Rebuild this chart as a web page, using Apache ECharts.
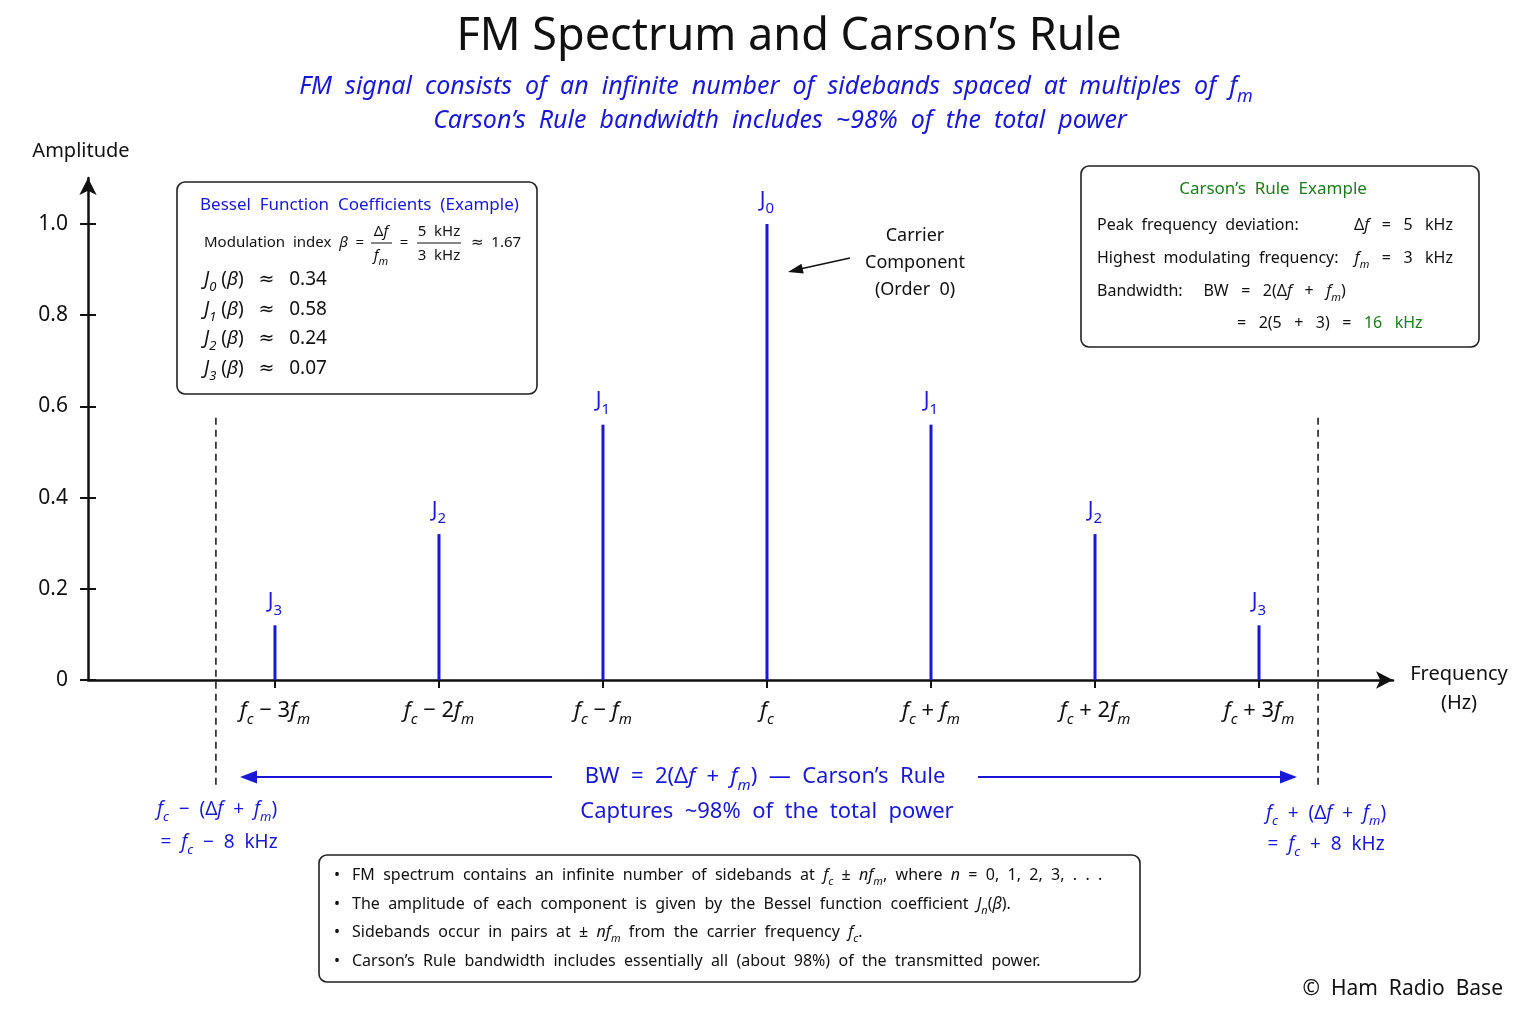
<!DOCTYPE html>
<html><head><meta charset="utf-8">
<script src="https://cdn.jsdelivr.net/npm/echarts@6/dist/echarts.min.js"></script>
<style>html,body{margin:0;background:#fff}#c{width:1536px;height:1024px}</style>
</head><body><div id="c"></div>
<script>
// ---------- data ----------
const orders = [-3, -2, -1, 0, 1, 2, 3];
const amplitudes = [0.12, 0.32, 0.56, 1.0, 0.56, 0.32, 0.12];
const stemLabels = ['J^3', 'J^2', 'J^1', 'J^0', 'J^1', 'J^2', 'J^3'];
const xTickLabels = ['$f$_c − 3$f$_m', '$f$_c − 2$f$_m', '$f$_c − $f$_m', '$f$_c', '$f$_c + $f$_m', '$f$_c + 2$f$_m', '$f$_c + 3$f$_m'];
const yTickValues = [0, 0.2, 0.4, 0.6, 0.8, 1.0];
const yTickLabels = ['0', '0.2', '0.4', '0.6', '0.8', '1.0'];
const bandEdges = [-3.36, 3.36];
const bandEdgeSpan = [-0.24, 0.575];
const besselNames = ['$J$_0($β$)', '$J$_1($β$)', '$J$_2($β$)', '$J$_3($β$)'];
const besselValues = ['0.34', '0.58', '0.24', '0.07'];
const bullets = [
  'FM spectrum contains an infinite number of sidebands at $f$_c ± $nf$_m, where $n$ = 0, 1, 2, 3, . . .',
  'The amplitude of each component is given by the Bessel function coefficient $J$_n($β$).',
  'Sidebands occur in pairs at ± $nf$_m from the carrier frequency $f$_c.',
  'Carson’s Rule bandwidth includes essentially all (about 98%) of the transmitted power.'
];

// ---------- helpers ----------
const FONT = '"Noto Sans", "DejaVu Sans", sans-serif';
const BLUE = '#1818d6';
const GREEN = '#1e7a1e';
const INK = '#111';

function mf(s) {
  return s.replace(/\$([^$]+)\$/g, '{i|$1}')
          .replace(/_(\w)/g, '{s|$1}')
          .replace(/\^(\w)/g, '{su|$1}');
}
function rich(size, color) {
  const lh = Math.round(size * 1.3);
  const sub = Math.round(size * 0.7);
  const pad = [Math.round(size * 0.8), 0, 0, 0];
  return {
    i: {fontStyle: 'italic', fontSize: size, color: color, fill: color, fontFamily: FONT, lineHeight: lh},
    s: {fontStyle: 'italic', fontSize: sub, color: color, fill: color, fontFamily: FONT, padding: pad, lineHeight: lh},
    su: {fontSize: sub, color: color, fill: color, fontFamily: FONT, padding: pad, lineHeight: lh},
    g: {fontSize: size, color: GREEN, fill: GREEN, fontFamily: FONT, lineHeight: lh}
  };
}
function T(x, y, text, size, color, align, extra, single) {
  const t = single ? text : text.replace(/ /g, '  ');
  return {
    type: 'text', x: x, y: y, z: 20, silent: true,
    style: Object.assign({
      text: mf(t), fontSize: size, fontFamily: FONT, fill: color,
      align: align || 'left', verticalAlign: 'middle',
      lineHeight: Math.round(size * 1.3), rich: rich(size, color)
    }, extra || {})
  };
}
function box(x, y, w, h) {
  return {type: 'rect', z: 5, silent: true, shape: {x: x, y: y, width: w, height: h, r: 8},
    style: {fill: '#fff', stroke: '#222', lineWidth: 1.6}};
}
function arrowHead(x1, y1, x2, y2, color, len, wid) {
  const dx = x2 - x1, dy = y2 - y1, L = Math.hypot(dx, dy);
  const ux = dx / L, uy = dy / L, px = -uy, py = ux;
  const bx = x2 - ux * len, by = y2 - uy * len;
  return {type: 'polygon', z: 21, silent: true,
    shape: {points: [[x2, y2], [bx + px * wid / 2, by + py * wid / 2], [bx - px * wid / 2, by - py * wid / 2]]},
    style: {fill: color}};
}
function line(x1, y1, x2, y2, color, w) {
  return {type: 'line', z: 21, silent: true, shape: {x1: x1, y1: y1, x2: x2, y2: y2},
    style: {stroke: color, lineWidth: w}};
}

// ---------- graphics ----------
const g = [];
g.push(T(789, 37, 'FM Spectrum and Carson’s Rule', 45, INK, 'center', null, true));
g.push(T(776, 87, 'FM signal consists of an infinite number of sidebands spaced at multiples of $f$_m', 25, BLUE, 'center', {fontStyle: 'italic'}));
g.push(T(780, 121, 'Carson’s Rule bandwidth includes ~98% of the total power', 25, BLUE, 'center', {fontStyle: 'italic'}));

// Bessel box
g.push(box(177, 182, 360, 212));
g.push(T(200, 205, 'Bessel Function Coefficients (Example)', 17, BLUE, 'left'));
g.push(T(204, 243, 'Modulation index $β$ =', 15, INK, 'left'));
g.push(T(381, 232, 'Δ$f$', 15, INK, 'center'));
g.push(line(371, 243, 392, 243, INK, 1));
g.push(T(381, 256, '$f$_m', 15, INK, 'center'));
g.push(T(404, 243, '=', 15, INK, 'center'));
g.push(T(439, 232, '5 kHz', 15, INK, 'center'));
g.push(line(417, 243, 461, 243, INK, 1));
g.push(T(439, 256, '3 kHz', 15, INK, 'center'));
g.push(T(471, 243, '≈ 1.67', 15, INK, 'left'));
const rowY = [280, 310, 339, 369];
besselNames.forEach((n, k) => {
  g.push(T(204, rowY[k], n.replace('(', ' (') + '   ≈   ' + besselValues[k], 19, INK, 'left', null, true));
});

// Carson box
g.push(box(1081, 166, 398, 181));
g.push(T(1273, 189, 'Carson’s Rule Example', 17, GREEN, 'center'));
g.push(T(1097, 225, 'Peak frequency deviation:', 16, INK, 'left'));
g.push(T(1453, 225, 'Δ$f$   =   5   kHz', 16, INK, 'right', null, true));
g.push(T(1097, 258, 'Highest modulating frequency:', 16, INK, 'left'));
g.push(T(1453, 258, '$f$_m   =   3   kHz', 16, INK, 'right', null, true));
g.push(T(1097, 291, 'Bandwidth:     BW   =   2(Δ$f$   +   $f$_m)', 16, INK, 'left', null, true));
g.push(T(1237, 323, '=   2(5   +   3)   =   {g|16   kHz}', 16, INK, 'left', null, true));

// carrier annotation
g.push(T(915, 263, 'Carrier\nComponent\n(Order 0)', 18, INK, 'center', {lineHeight: 27}));
g.push(line(850, 258, 800, 269, INK, 1.6));
g.push(arrowHead(850, 258, 788, 272, INK, 15, 10));

// BW arrow
g.push(line(252, 777, 552, 777, BLUE, 2));
g.push(arrowHead(552, 777, 240, 777, BLUE, 17, 13));
g.push(line(978, 777, 1284, 777, BLUE, 2));
g.push(arrowHead(978, 777, 1297, 777, BLUE, 17, 13));
g.push(T(765, 777, 'BW = 2(Δ$f$ + $f$_m) — Carson’s Rule', 22, BLUE, 'center'));
g.push(T(767, 812, 'Captures ~98% of the total power', 22, BLUE, 'center'));

// edge labels
g.push(T(217, 810, '$f$_c − (Δ$f$ + $f$_m)', 19, BLUE, 'center'));
g.push(T(219, 843, '= $f$_c − 8 kHz', 19, BLUE, 'center'));
g.push(T(1326, 814, '$f$_c + (Δ$f$ + $f$_m)', 19, BLUE, 'center'));
g.push(T(1326, 845, '= $f$_c + 8 kHz', 19, BLUE, 'center'));

// bottom notes
g.push(box(319, 855, 821, 127));
const bY = [875, 904, 932, 961];
bullets.forEach((b, k) => {
  g.push(T(337, bY[k], '•', 16, INK, 'center'));
  g.push(T(352, bY[k], b, 16, INK, 'left'));
});

g.push(T(1503, 989, '© Ham Radio Base', 21, INK, 'right'));
g.push(T(1459, 689, 'Frequency\n(Hz)', 20, INK, 'center', {lineHeight: 29}, true));

// ---------- chart ----------
const chart = echarts.init(document.getElementById('c'), null, {renderer: 'canvas'});
const axisLine = {onZero: false, lineStyle: {color: INK, width: 2.5}, symbol: ['none', 'arrow'], symbolSize: [13, 17]};
chart.setOption({
  backgroundColor: '#fff',
  animation: false,
  grid: {left: 88, right: 143, top: 178, bottom: 344, containLabel: false},
  xAxis: {
    type: 'value', min: -4.14, max: 3.817,
    splitLine: {show: false},
    axisLine: axisLine,
    axisTick: {customValues: orders, length: 8, lineStyle: {color: INK, width: 2}},
    axisLabel: {customValues: orders, margin: 16, fontSize: 22, color: INK, fontFamily: FONT,
      formatter: v => mf(xTickLabels[orders.indexOf(v)]), rich: rich(22, INK)}
  },
  yAxis: [{
    type: 'value', min: 0, max: 1.101,
    splitLine: {show: false},
    axisLine: axisLine,
    axisTick: {customValues: yTickValues, length: 8, lineStyle: {color: INK, width: 2}},
    axisLabel: {customValues: yTickValues, margin: 20, fontSize: 21, color: INK, fontFamily: FONT,
      formatter: v => yTickLabels[yTickValues.indexOf(v)]},
    name: 'Amplitude', nameLocation: 'end', nameGap: 27,
    nameTextStyle: {fontSize: 20, color: INK, fontFamily: FONT, align: 'center', verticalAlign: 'middle', padding: [0, 14, 0, 0]}
  }, {
    type: 'value', min: 0, max: 1.101, position: 'left', offset: 0,
    splitLine: {show: false}, axisLine: {show: false, onZero: false},
    axisTick: {customValues: yTickValues, inside: true, length: 8, lineStyle: {color: INK, width: 2}},
    axisLabel: {show: false}
  }],
  series: [{
    type: 'bar', yAxisIndex: 0, barWidth: 3, silent: true,
    data: orders.map((o, k) => [o, amplitudes[k]]),
    itemStyle: {color: BLUE},
    label: {show: true, position: 'top', distance: 10, fontSize: 21, color: BLUE, fontFamily: FONT,
      formatter: p => mf(stemLabels[p.dataIndex]), rich: rich(21, BLUE)}
  }].concat(bandEdges.map(e => ({
    type: 'line', yAxisIndex: 0, clip: false, silent: true, symbol: 'none', z: 1,
    data: [[e, bandEdgeSpan[1]], [e, bandEdgeSpan[0]]],
    lineStyle: {color: INK, width: 1.5, type: [7, 5]}
  }))),
  graphic: g
});
</script>
</body></html>
